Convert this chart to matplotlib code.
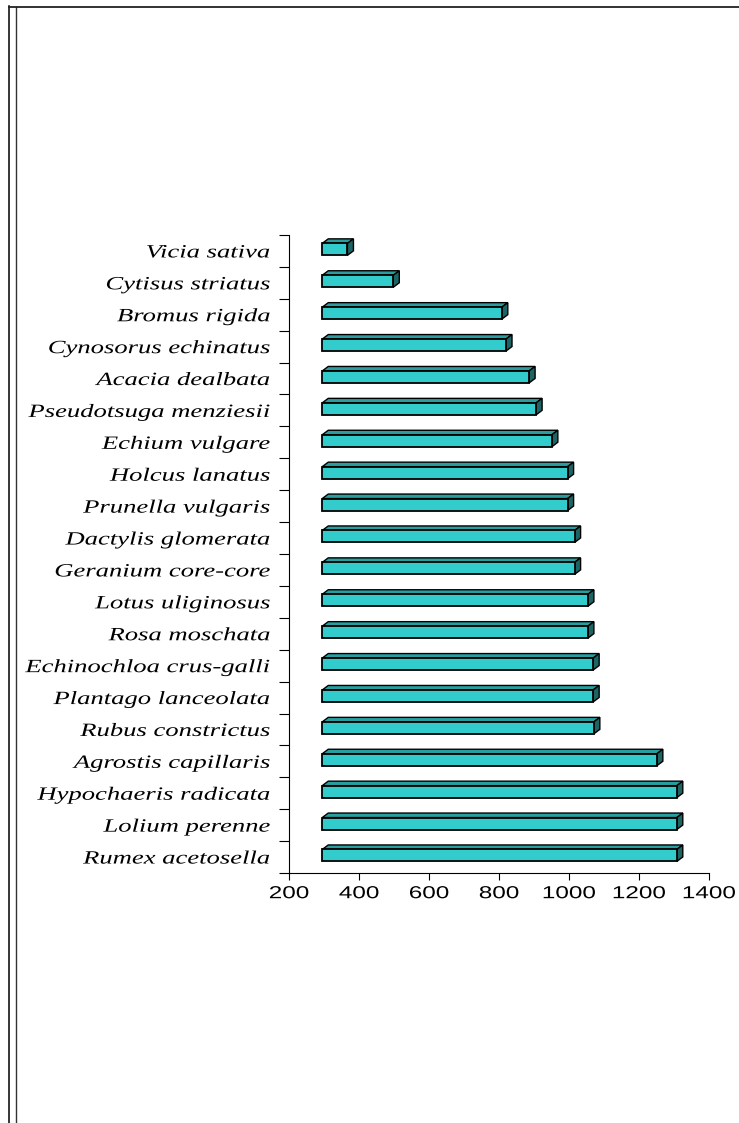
import matplotlib
matplotlib.use("Agg")
import numpy as np
import matplotlib.pyplot as plt
from matplotlib.patches import Polygon
from matplotlib.lines import Line2D
from matplotlib.patheffects import AbstractPathEffect
from matplotlib.transforms import Affine2D

# Species, listed top to bottom
species = [
    "Vicia sativa", "Cytisus striatus", "Bromus rigida", "Cynosorus echinatus",
    "Acacia dealbata", "Pseudotsuga menziesii", "Echium vulgare", "Holcus lanatus",
    "Prunella vulgaris", "Dactylis glomerata", "Geranium core-core",
    "Lotus uliginosus", "Rosa moschata", "Echinochloa crus-galli",
    "Plantago lanceolata", "Rubus constrictus", "Agrostis capillaris",
    "Hypochaeris radicata", "Lolium perenne", "Rumex acetosella",
]
values = [367, 498, 808, 820, 886, 906, 951, 996, 996, 1016, 1016,
          1054, 1054, 1069, 1069, 1071, 1251, 1308, 1308, 1308]
base_value = 295
x_ticks = [200, 400, 600, 800, 1000, 1200, 1400]


class HStretch(AbstractPathEffect):
    """Draw text glyphs widened horizontally around an anchor of their ink box."""

    def __init__(self, sx, anchor=0.5):
        super().__init__()
        self.sx = sx
        self.anchor = anchor

    def draw_path(self, renderer, gc, tpath, affine, rgbFace=None):
        ext = tpath.get_extents(affine)
        x0 = ext.x0 + self.anchor * ext.width
        aff = affine + Affine2D().translate(-x0, 0).scale(self.sx, 1).translate(x0, 0)
        renderer.draw_path(gc, tpath, aff, rgbFace)


W, H = 739, 1123
fig = plt.figure(figsize=(W / 100, H / 100), dpi=100)
fig.patch.set_facecolor("white")

ax_l, ax_r, ax_t, ax_b = 289, 709, 235, 873
ax = fig.add_axes([ax_l / W, (H - ax_b) / H, (ax_r - ax_l) / W, (ax_b - ax_t) / H])

n = len(species)
ypos = np.arange(n)[::-1].astype(float)
vals = np.array(values, dtype=float)

ax.set_xlim(200, 1400)
ax.set_ylim(-0.5, n - 0.5)

# 3-D bar geometry: front face height, vertical shift, depth offsets
bar_h = 0.376
shift = 0.05
px_per_x = (ax_r - ax_l) / 1200.0
px_per_y = (ax_b - ax_t) / n
depth_x = 6.0 / px_per_x
depth_y = 4.5 / px_per_y

front_col = "#33CCCC"
top_col = "#289E9E"
side_col = "#1D6464"

yc = ypos + shift
for y, v in zip(yc, vals):
    top = y + bar_h / 2
    bot = y - bar_h / 2
    top_face = Polygon([(base_value, top), (v, top), (v + depth_x, top + depth_y),
                        (base_value + depth_x, top + depth_y)], closed=True,
                       facecolor=top_col, edgecolor="black", lw=1.0, zorder=2,
                       clip_on=False, joinstyle="miter")
    side_face = Polygon([(v, bot), (v + depth_x, bot + depth_y), (v + depth_x, top + depth_y),
                         (v, top)], closed=True, facecolor=side_col, edgecolor="black",
                        lw=1.0, zorder=2, clip_on=False, joinstyle="miter")
    ax.add_patch(top_face)
    ax.add_patch(side_face)

ax.barh(yc, vals - base_value, left=base_value, height=bar_h, color=front_col,
        edgecolor="black", linewidth=1.3, zorder=3)

for s in ("top", "right"):
    ax.spines[s].set_visible(False)
for s in ("left", "bottom"):
    ax.spines[s].set_color("black")
    ax.spines[s].set_linewidth(0.8)

ax.set_yticks(ypos, species)
ax.set_yticks(np.arange(-0.5, n, 1.0), minor=True)
ax.tick_params(axis="y", which="major", length=0, pad=13.5)
ax.tick_params(axis="y", which="minor", length=7.2, width=0.8, color="black", direction="out")
ax.set_xticks(x_ticks, [str(t) for t in x_ticks])
ax.tick_params(axis="x", which="major", length=5, width=0.8, color="black",
               direction="out", pad=4.5)

for lbl in ax.get_yticklabels():
    lbl.set_fontfamily("Liberation Serif")
    lbl.set_fontstyle("italic")
    lbl.set_fontsize(13.5)
    lbl.set_color("black")
    lbl.set_path_effects([HStretch(1.42, anchor=1.0)])
for lbl in ax.get_xticklabels():
    lbl.set_fontfamily("Liberation Sans")
    lbl.set_fontsize(12.5)
    lbl.set_color("black")
    lbl.set_path_effects([HStretch(1.4, anchor=0.5)])

# Page frame: double rule on the left, single rule along the top
fig.add_artist(Line2D([9 / W, 9 / W], [0, 1 - 6 / H], color="black", lw=1.1))
fig.add_artist(Line2D([16 / W, 16 / W], [0, 1 - 6.5 / H], color="#333333", lw=1.0))
fig.add_artist(Line2D([8.5 / W, 1], [1 - 6.5 / H, 1 - 6.5 / H], color="#222222", lw=1.3))

fig.savefig("out.png", dpi=100, facecolor="white")
